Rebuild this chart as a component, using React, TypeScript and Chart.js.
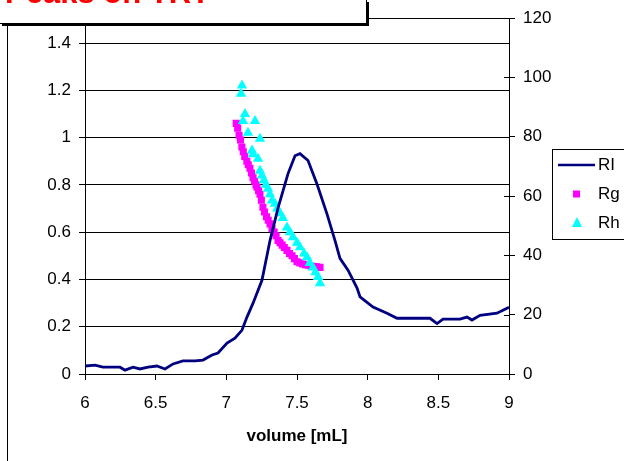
import React, { useEffect, useRef } from 'react';
import { Chart, registerables } from 'chart.js';

Chart.register(...registerables);

// ---- data ----
const RI_X = [6.0, 6.071, 6.127, 6.248, 6.283, 6.34, 6.389, 6.446, 6.509, 6.566, 6.623, 6.693, 6.778, 6.835, 6.899, 6.941, 7.005, 7.061, 7.111, 7.146, 7.189, 7.224, 7.252, 7.309, 7.366, 7.436, 7.486, 7.521, 7.578, 7.642, 7.712, 7.769, 7.804, 7.861, 7.925, 7.946, 8.038, 8.137, 8.208, 8.441, 8.491, 8.533, 8.653, 8.703, 8.738, 8.795, 8.915, 8.986, 9.0];
const RI_Y = [2.7, 3.0, 2.3, 2.3, 1.3, 2.3, 1.7, 2.3, 2.7, 1.7, 3.4, 4.4, 4.4, 4.7, 6.4, 7.1, 10.4, 12.1, 14.8, 19.2, 23.9, 28.2, 31.6, 45, 56, 67.5, 73.6, 74.3, 72, 64, 54, 45, 39, 35, 29, 26, 22.6, 20.5, 18.8, 18.8, 17, 18.5, 18.5, 19.2, 18.2, 19.8, 20.5, 22.2, 22.5];

const RG_X = [7.07, 7.08, 7.09, 7.1, 7.11, 7.12, 7.13, 7.145, 7.155, 7.167, 7.178, 7.189, 7.2, 7.21, 7.217, 7.228, 7.238, 7.248, 7.259, 7.27, 7.284, 7.296, 7.309, 7.323, 7.338, 7.352, 7.366, 7.38, 7.395, 7.41, 7.429, 7.447, 7.465, 7.482, 7.5, 7.52, 7.54, 7.56, 7.58, 7.6, 7.62, 7.64, 7.663];
const RG_Y = [1.06, 1.04, 1.01, 0.99, 0.96, 0.94, 0.92, 0.9, 0.885, 0.87, 0.85, 0.83, 0.815, 0.8, 0.79, 0.775, 0.76, 0.735, 0.705, 0.685, 0.665, 0.65, 0.635, 0.615, 0.6, 0.585, 0.565, 0.555, 0.545, 0.535, 0.523, 0.51, 0.5, 0.488, 0.475, 0.47, 0.465, 0.462, 0.46, 0.457, 0.455, 0.453, 0.451];

const RH_X = [7.104, 7.111, 7.118, 7.132, 7.153, 7.182, 7.189, 7.203, 7.224, 7.238, 7.238, 7.252, 7.266, 7.28, 7.295, 7.309, 7.323, 7.344, 7.36, 7.38, 7.4, 7.429, 7.45, 7.472, 7.5, 7.521, 7.55, 7.571, 7.59, 7.613, 7.63, 7.649, 7.663];
const RH_Y = [1.185, 1.22, 1.07, 1.1, 1.02, 0.945, 0.93, 1.07, 0.91, 0.995, 0.86, 0.84, 0.82, 0.8, 0.784, 0.76, 0.734, 0.72, 0.7, 0.68, 0.66, 0.62, 0.6, 0.578, 0.555, 0.536, 0.51, 0.494, 0.47, 0.451, 0.43, 0.41, 0.384];

const X_TICKS = [6, 6.5, 7, 7.5, 8, 8.5, 9];
const LEFT_TICKS = [0, 0.2, 0.4, 0.6, 0.8, 1, 1.2, 1.4];
const RIGHT_TICKS = [0, 20, 40, 60, 80, 100, 120];
const SERIES_NAMES = ['RI', 'Rg', 'Rh'];
const X_TITLE = 'volume [mL]';
const CHART_TITLE = 'Peaks on TRT';

const NAVY = '#000080';
const MAGENTA = '#FF00FF';
const CYAN = '#00FFFF';
const FONT = 'Liberation Sans, Arial, sans-serif';

const extras = {
  id: 'extras',
  afterDraw(chart: any) {
    const ctx: CanvasRenderingContext2D = chart.ctx;
    const a = chart.chartArea;
    const y2 = chart.scales.y2;
    ctx.save();
    ctx.strokeStyle = '#000';
    ctx.lineWidth = 1;
    // top border of plot area
    const top = Math.round(a.top) + 0.5;
    ctx.beginPath();
    ctx.moveTo(a.left, top);
    ctx.lineTo(a.right + 6, top);
    ctx.stroke();
    // inner half of right-axis tick marks
    RIGHT_TICKS.forEach((v) => {
      const y = Math.round(y2.getPixelForValue(v)) + 0.5;
      ctx.beginPath();
      ctx.moveTo(a.right - 5, y);
      ctx.lineTo(a.right, y);
      ctx.stroke();
    });
    // outer chart border (left edge)
    ctx.beginPath();
    ctx.moveTo(7.5, 20);
    ctx.lineTo(7.5, 461);
    ctx.stroke();

    // title box (cut off at the top)
    ctx.fillStyle = '#fff';
    ctx.fillRect(0, 0, 367, 24);
    ctx.strokeRect(-1.5, -1.5, 368, 25);
    ctx.lineWidth = 2;
    ctx.beginPath();
    ctx.moveTo(368, 2);
    ctx.lineTo(368, 25);
    ctx.lineTo(2, 25);
    ctx.stroke();
    ctx.fillStyle = '#FF0000';
    ctx.font = 'bold 31px ' + FONT;
    ctx.textAlign = 'right';
    ctx.textBaseline = 'alphabetic';
    ctx.fillText(CHART_TITLE, 210, 3);

    // legend
    ctx.lineWidth = 1;
    ctx.fillStyle = '#fff';
    ctx.fillRect(553, 150, 80, 89);
    ctx.strokeRect(552.5, 149.5, 80, 90);
    ctx.font = '17px ' + FONT;
    ctx.textAlign = 'left';
    ctx.textBaseline = 'middle';
    ctx.fillStyle = '#000';
    const rows = [165, 194, 223];
    SERIES_NAMES.forEach((n, i) => ctx.fillText(n, 598, rows[i]));
    ctx.strokeStyle = NAVY;
    ctx.lineWidth = 2.5;
    ctx.beginPath();
    ctx.moveTo(558, rows[0]);
    ctx.lineTo(595, rows[0]);
    ctx.stroke();
    ctx.fillStyle = MAGENTA;
    ctx.fillRect(573, rows[1] - 3.5, 7, 7);
    ctx.fillStyle = CYAN;
    ctx.beginPath();
    ctx.moveTo(577, rows[2] - 6);
    ctx.lineTo(582, rows[2] + 4);
    ctx.lineTo(572, rows[2] + 4);
    ctx.closePath();
    ctx.fill();
    ctx.restore();
  },
};

export default function App() {
  const ref = useRef<HTMLCanvasElement | null>(null);
  useEffect(() => {
    if (!ref.current) return;
    const tickFont = { family: FONT, size: 17 };
    const chart = new Chart(ref.current, {
      type: 'scatter',
      data: {
        datasets: [
          {
            type: 'line',
            label: SERIES_NAMES[0],
            data: RI_X.map((x, i) => ({ x, y: RI_Y[i] })),
            yAxisID: 'y2',
            borderColor: NAVY,
            borderWidth: 2.8,
            pointRadius: 0,
            tension: 0,
            fill: false,
          },
          {
            label: SERIES_NAMES[2],
            data: RH_X.map((x, i) => ({ x, y: RH_Y[i] })),
            yAxisID: 'y',
            pointStyle: 'triangle',
            pointRadius: 6,
            backgroundColor: CYAN,
            borderColor: CYAN,
            borderWidth: 0,
          },
          {
            label: SERIES_NAMES[1],
            data: RG_X.map((x, i) => ({ x, y: RG_Y[i] })),
            yAxisID: 'y',
            pointStyle: 'rect',
            pointRadius: 5,
            backgroundColor: MAGENTA,
            borderColor: MAGENTA,
            borderWidth: 0,
          },
        ],
      } as any,
      options: {
        responsive: false,
        animation: false,
        layout: { padding: { top: 17, left: 0, right: 0, bottom: 0 } },
        plugins: { legend: { display: false }, tooltip: { enabled: false } },
        scales: {
          x: {
            type: 'linear',
            min: 6,
            max: 9,
            afterBuildTicks: (s: any) => { s.ticks = X_TICKS.map((v) => ({ value: v })); },
            afterFit: (s: any) => { s.height = 87; },
            grid: { drawOnChartArea: false, drawTicks: true, tickLength: 6, color: '#000' },
            border: { color: '#000', width: 1 },
            ticks: { color: '#000', font: tickFont, padding: 13, maxRotation: 0, autoSkip: false, callback: (v: any) => String(v) },
            title: { display: true, text: X_TITLE, color: '#000', font: { family: FONT, size: 17, weight: 'bold' }, padding: { top: 0, bottom: 14 } },
          },
          y: {
            type: 'linear',
            position: 'left',
            min: 0,
            max: 1.505,
            afterBuildTicks: (s: any) => { s.ticks = LEFT_TICKS.map((v) => ({ value: v })); },
            afterFit: (s: any) => { s.width = 85; },
            grid: { color: '#000', lineWidth: 1, drawTicks: true, tickLength: 6 },
            border: { color: '#000', width: 1 },
            ticks: { color: '#000', font: tickFont, padding: 8, autoSkip: false, callback: (v: any) => String(Math.round(v * 10) / 10) },
          },
          y2: {
            type: 'linear',
            position: 'right',
            min: 0,
            max: 120,
            afterBuildTicks: (s: any) => { s.ticks = RIGHT_TICKS.map((v) => ({ value: v })); },
            afterFit: (s: any) => { s.width = 115; },
            grid: { drawOnChartArea: false, drawTicks: true, tickLength: 6, color: '#000' },
            border: { color: '#000', width: 1 },
            ticks: { color: '#000', font: tickFont, padding: 8, autoSkip: false, callback: (v: any) => String(v) },
          },
        },
      } as any,
      plugins: [extras],
    });
    return () => chart.destroy();
  }, []);
  return (
    <div style={{ position: 'fixed', left: 0, top: 0, width: 624, height: 461, background: '#fff' }}>
      <canvas ref={ref} width={624} height={461} style={{ display: 'block', width: 624, height: 461 }} />
    </div>
  );
}
